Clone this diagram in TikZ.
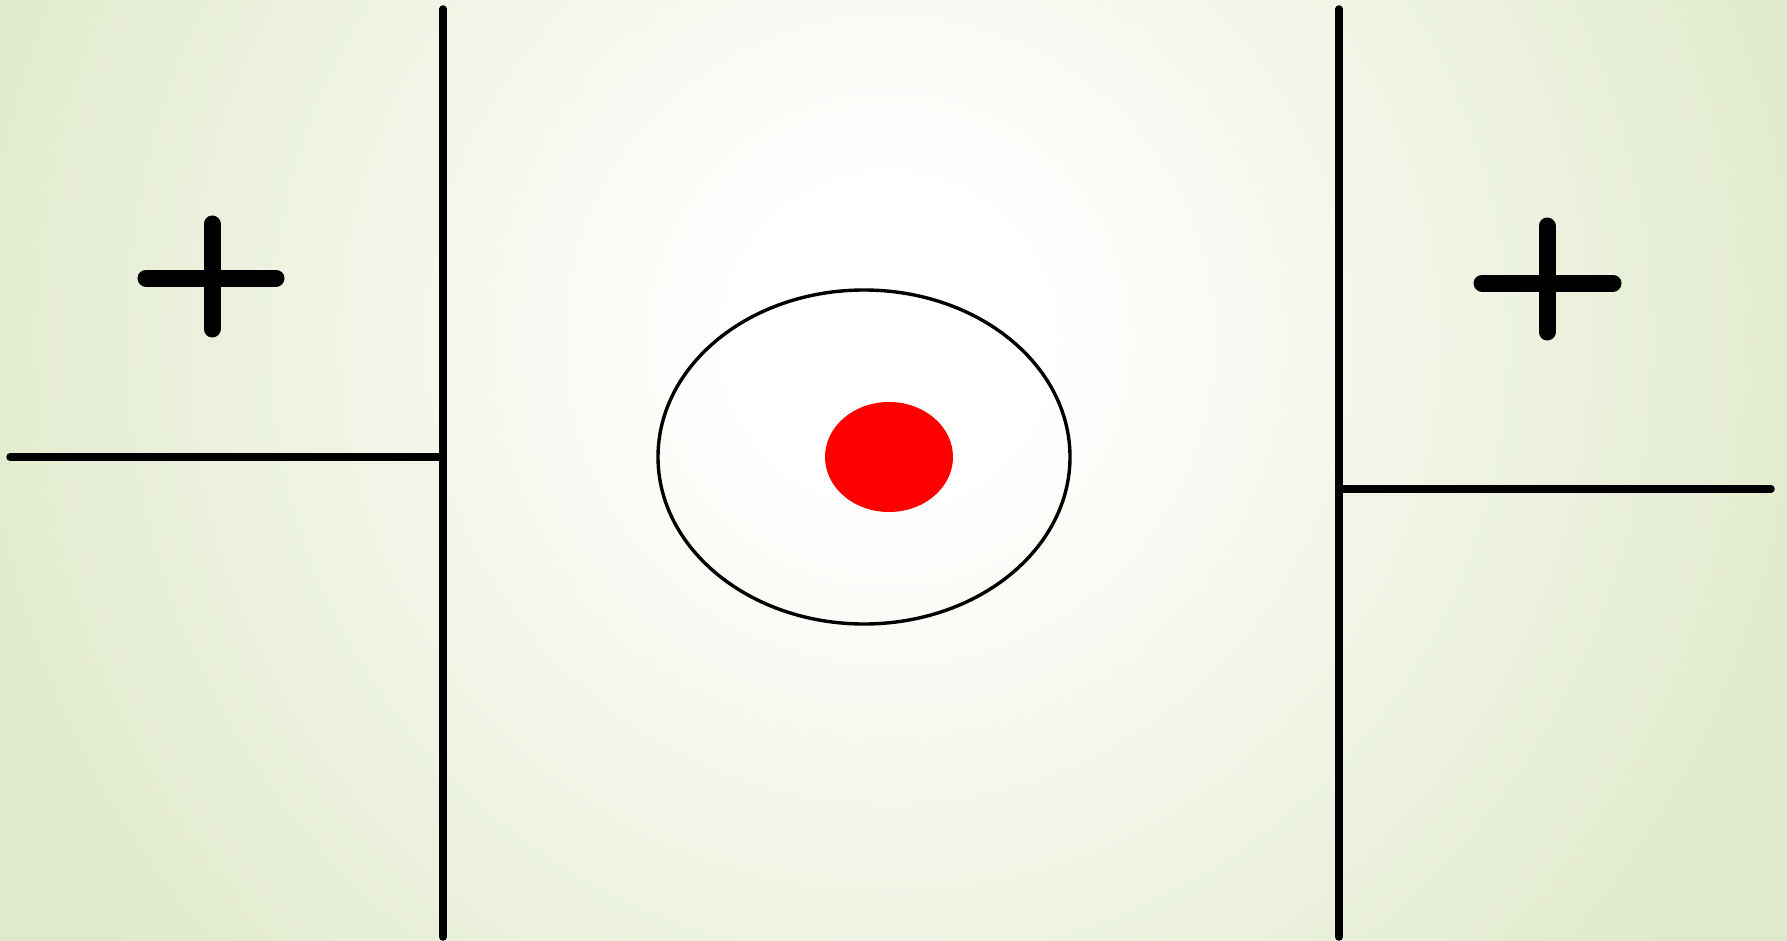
\documentclass[tikz,border=0pt]{standalone}
\definecolor{bgg}{RGB}{224,233,202}
\definecolor{dotred}{RGB}{255,0,0}
\pgfdeclareradialshading{bgshade}{\pgfpoint{0pt}{0pt}}{color(0pt)=(white); color(150pt)=(white); color(990pt)=(bgg); color(1100pt)=(bgg)}
\tikzset{
  plate/.style={line width=7.5pt, line cap=round},
  wire/.style={line width=7.5pt, line cap=round},
  plussign/.style={line width=17pt, line cap=round},
  orbit/.style={line width=3.4pt},
}
\begin{document}
\begin{tikzpicture}[x=1pt,y=-1pt]
\useasboundingbox (0,0) rectangle (1787,941);
\begin{scope}
\clip (0,0) rectangle (1787,941);
\node[inner sep=0pt, outer sep=0pt] (bg) at (889,340) {\pgfuseshading{bgshade}};
\end{scope}
% plates
\coordinate (lt) at (443,9);
\coordinate (lb) at (443,937);
\coordinate (lm) at (443,457);
\coordinate (lw) at (10,457);
\coordinate (rt) at (1339,9);
\coordinate (rb) at (1339,937);
\coordinate (rm) at (1339,489);
\coordinate (rw) at (1771,489);
\draw[plate] (lt) -- (lb);
\draw[plate] (rt) -- (rb);
\draw[wire] (lw) -- (lm);
\draw[wire] (rm) -- (rw);
% plus signs
\draw[plussign] (212,224) -- (212,329);
\draw[plussign] (146,278) -- (276,278);
\draw[plussign] (1547,226) -- (1547,332);
\draw[plussign] (1482,283) -- (1613,283);
% orbit and charge
\draw[orbit] (864,457) ellipse [x radius=206, y radius=167];
\fill[dotred] (889,457) ellipse [x radius=64, y radius=55];
\end{tikzpicture}
\end{document}
